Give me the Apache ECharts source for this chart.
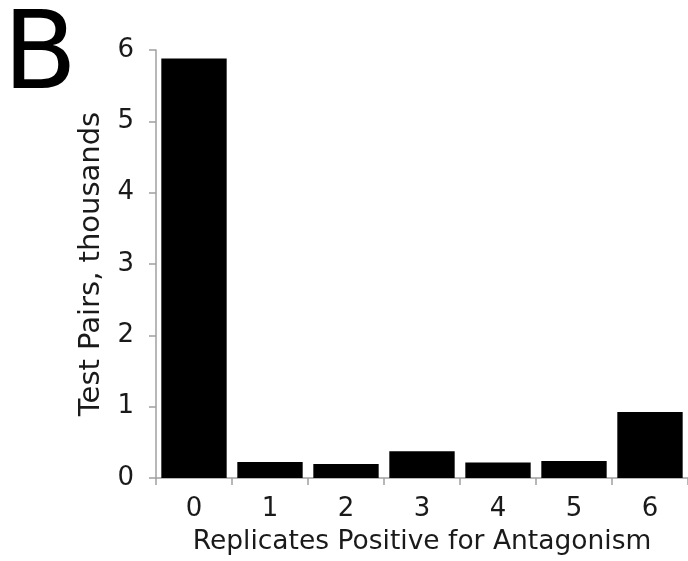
<!DOCTYPE html>
<html>
<head>
<meta charset="utf-8">
<style>html,body{margin:0;padding:0;background:#fff;}#c{width:688px;height:561px;}</style>
<script src="https://cdn.jsdelivr.net/npm/echarts@6/dist/echarts.min.js"></script>
</head>
<body>
<div id="c"></div>
<script>
const categories = ['0', '1', '2', '3', '4', '5', '6'];
const values = [5.88, 0.225, 0.197, 0.376, 0.216, 0.24, 0.925];
const yTicks = [0, 1, 2, 3, 4, 5, 6];
const xTitle = 'Replicates Positive for Antagonism';
const yTitle = 'Test Pairs, thousands';
const panelLabel = 'B';

const chart = echarts.init(document.getElementById('c'), null, {renderer: 'canvas'});
const font = 'DejaVu Sans';
const axisGray = '#a0a0a0';
const textColor = '#1a1a1a';
chart.setOption({
  animation: false,
  backgroundColor: '#fff',
  graphic: [{
    type: 'text', left: 3, top: 6,
    style: {text: panelLabel, fontFamily: font, fontSize: 108, fill: '#000'}
  }],
  grid: {left: 156, top: 50, bottom: 79, right: -5},
  xAxis: {
    type: 'category', data: categories,
    name: xTitle, nameLocation: 'middle', nameGap: 51,
    nameTextStyle: {fontFamily: font, fontSize: 26.5, color: textColor},
    axisLine: {lineStyle: {color: axisGray, width: 1.5}},
    axisTick: {show: true, alignWithLabel: false, length: 7, lineStyle: {color: axisGray, width: 1.5}},
    axisLabel: {fontFamily: font, fontSize: 26, color: textColor, margin: 18}
  },
  yAxis: {
    type: 'value', min: yTicks[0], max: yTicks[yTicks.length - 1], interval: 1,
    name: yTitle, nameLocation: 'middle', nameGap: 50,
    nameTextStyle: {fontFamily: font, fontSize: 29, color: textColor},
    splitLine: {show: false},
    axisLine: {show: true, lineStyle: {color: axisGray, width: 1.5}},
    axisTick: {show: true, length: 7, lineStyle: {color: axisGray, width: 1.5}},
    axisLabel: {fontFamily: font, fontSize: 26, color: textColor, margin: 22}
  },
  series: [{
    type: 'bar', data: values, barCategoryGap: '14%',
    itemStyle: {color: '#000'}
  }]
});
</script>
</body>
</html>
